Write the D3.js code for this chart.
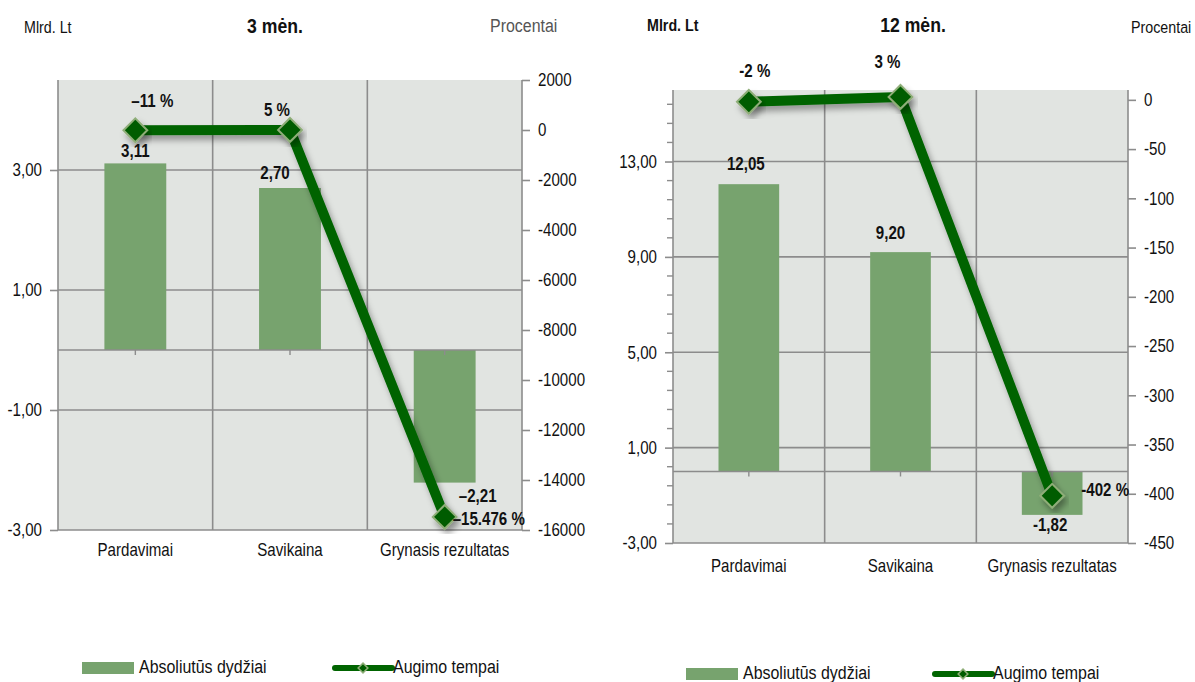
<!DOCTYPE html>
<html><head><meta charset="utf-8">
<script src="https://cdn.jsdelivr.net/npm/d3@7"></script>
<style>
body{margin:0;background:#fff;}
svg{display:block;font-family:"Liberation Sans",Arial,sans-serif;}
</style></head><body>
<svg id="c" width="1195" height="682"></svg>
<script>
// ---------- data ----------
const categories = ["Pardavimai", "Savikaina", "Grynasis rezultatas"];

const absQ = [3.11, 2.70, -2.21];
const growthQ = [-11, 5, -15476];
const absLabelsQ = ["3,11", "2,70", "–2,21"];
const growthLabelsQ = ["–11 %", "5 %", "–15.476 %"];
const leftTicksQ = [3, 1, -1, -3];
const leftTickLabelsQ = ["3,00", "1,00", "-1,00", "-3,00"];
const rightTicksQ = [2000, 0, -2000, -4000, -6000, -8000, -10000, -12000, -14000, -16000];

const absY = [12.05, 9.20, -1.82];
const growthY = [-2, 3, -402];
const absLabelsY = ["12,05", "9,20", "-1,82"];
const growthLabelsY = ["-2 %", "3 %", "-402 %"];
const leftTicksY = [13, 9, 5, 1, -3];
const leftTickLabelsY = ["13,00", "9,00", "5,00", "1,00", "-3,00"];
const minorTicksY = [15.4, 14.6, 13.8, 12.2, 11.4, 10.6, 9.8, 8.2, 7.4, 6.6, 5.8, 4.2, 3.4, 2.6, 1.8, 0.2, -0.6, -1.4, -2.2];
const rightTicksY = [0, -50, -100, -150, -200, -250, -300, -350, -400, -450];

const legendLabels = ["Absoliutūs dydžiai", "Augimo tempai"];

// ---------- style ----------
const SX = 0.84; // horizontal condensing of text (narrow font look)
const BAR = "#77a36e", LINE = "#006400", MARK = "#005c00", MARKSTROKE = "#8fae78";
const BG = "#e1e4e1", GRID = "#8c8c8c", INK = "#111";

const svg = d3.select("#c");
const defs = svg.append("defs");
const f = defs.append("filter").attr("id", "sh").attr("x", "-20%").attr("y", "-20%").attr("width", "140%").attr("height", "140%");
f.append("feDropShadow").attr("dx", 3).attr("dy", 5).attr("stdDeviation", 3).attr("flood-color", "#000").attr("flood-opacity", 0.35);

function txt(g, x, y, s, o = {}) {
  return g.append("text")
    .attr("x", x / SX).attr("y", y)
    .attr("transform", `scale(${SX},1)`)
    .attr("text-anchor", o.anchor || "start")
    .attr("dominant-baseline", "middle")
    .attr("font-size", o.size || 18)
    .attr("font-weight", o.bold ? "bold" : "normal")
    .attr("fill", o.fill || INK)
    .text(s);
}

function chart(o) {
  const g = svg.append("g");
  const x = d3.scaleBand().domain(categories).range([o.x0, o.x1]).paddingInner(0).paddingOuter(0);
  const yL = d3.scaleLinear().domain(o.leftDomain).range([o.y1, o.y0]);
  const yR = d3.scaleLinear().domain(o.rightDomain).range([o.y1, o.y0]);
  const cx = c => x(c) + x.bandwidth() / 2;

  g.append("rect").attr("x", o.x0).attr("y", o.y0).attr("width", o.x1 - o.x0).attr("height", o.y1 - o.y0).attr("fill", BG);

  g.selectAll(".hg").data(o.leftTicks).join("line")
    .attr("x1", o.x0).attr("x2", o.x1).attr("y1", d => yL(d)).attr("y2", d => yL(d))
    .attr("stroke", GRID).attr("stroke-width", 1.6);
  g.selectAll(".vg").data(categories.slice(1)).join("line")
    .attr("x1", d => x(d)).attr("x2", d => x(d)).attr("y1", o.y0).attr("y2", o.y1)
    .attr("stroke", GRID).attr("stroke-width", 1.6);

  const bw = x.bandwidth() * 0.4;
  g.selectAll(".bar").data(o.abs).join("rect")
    .attr("x", (d, i) => cx(categories[i]) - bw / 2)
    .attr("y", d => yL(Math.max(0, d)))
    .attr("width", bw)
    .attr("height", d => Math.abs(yL(d) - yL(0)))
    .attr("fill", BAR);

  g.append("line").attr("x1", o.x0).attr("x2", o.x1).attr("y1", yL(0)).attr("y2", yL(0)).attr("stroke", GRID).attr("stroke-width", 1.6);
  g.selectAll(".ct").data(categories).join("line")
    .attr("x1", d => cx(d)).attr("x2", d => cx(d))
    .attr("y1", yL(0)).attr("y2", yL(0) + 5).attr("stroke", GRID).attr("stroke-width", 1.4);

  const la = g.append("g").attr("transform", `translate(${o.x0},0)`)
    .call(d3.axisLeft(yL).tickValues(o.leftTicks).tickSize(8).tickPadding(8).tickFormat((d, i) => o.leftTickLabels[i]));
  if (o.minorLeft) {
    la.selectAll(".minor").data(o.minorLeft).join("line").attr("class", "minor")
      .attr("x1", -6).attr("x2", 0).attr("y1", d => yL(d)).attr("y2", d => yL(d)).attr("stroke", GRID).attr("stroke-width", 1.4);
  }
  const ra = g.append("g").attr("transform", `translate(${o.x1},0)`)
    .call(d3.axisRight(yR).tickValues(o.rightTicks).tickSize(8).tickPadding(8).tickFormat(d => String(d)));
  [la, ra].forEach(a => {
    a.select(".domain").remove();
    a.append("line").attr("x1", 0).attr("x2", 0).attr("y1", o.y0).attr("y2", o.y1).attr("stroke", GRID).attr("stroke-width", 1.6);
    a.selectAll(".tick line").attr("stroke", GRID).attr("stroke-width", 1.6);
    a.selectAll(".tick text").attr("font-size", 18).attr("fill", INK).attr("font-family", null)
      .attr("transform", `scale(${SX},1)`)
      .attr("x", function () { return +d3.select(this).attr("x") / SX; });
  });

  categories.forEach(c => txt(g, cx(c), o.catY, c, { anchor: "middle", size: 18 }));

  const pts = o.growth.map((v, i) => [cx(categories[i]), yR(v)]);
  g.append("path").attr("d", d3.line()(pts)).attr("fill", "none").attr("stroke", LINE)
    .attr("stroke-width", 10).attr("stroke-linejoin", "round").attr("filter", "url(#sh)");
  const sym = d3.symbol().type(d3.symbolDiamond2).size(360);
  g.selectAll(".mk").data(pts).join("path")
    .attr("d", sym).attr("transform", d => `translate(${d[0]},${d[1]})`)
    .attr("fill", MARK).attr("stroke", MARKSTROKE).attr("stroke-width", 2).attr("filter", "url(#sh)");

  o.abs.forEach((v, i) => txt(g, cx(categories[i]) + o.absOff[i][0], yL(v) + o.absOff[i][1], o.absLabels[i], { anchor: "middle", bold: true, size: 18 }));
  o.growth.forEach((v, i) => txt(g, pts[i][0] + o.growthOff[i][0], pts[i][1] + o.growthOff[i][1], o.growthLabels[i], { anchor: o.growthOff[i][2] || "middle", bold: true, size: 18 }));

  txt(g, o.unitX, o.unitY, "Mlrd. Lt", { size: 17, bold: o.unitBold });
  txt(g, o.titleX, o.titleY, o.title, { anchor: "middle", bold: true, size: 21 });
  txt(g, o.pctX, o.pctY, "Procentai", { size: o.pctSize, fill: o.pctColor });

  const lg = g.append("g");
  lg.append("rect").attr("x", o.legX).attr("y", o.legY - 6).attr("width", 52).attr("height", 12).attr("fill", BAR);
  txt(lg, o.legX + 57, o.legY, legendLabels[0], { size: 19 });
  lg.append("line").attr("x1", o.leg2X).attr("x2", o.leg2X + 57).attr("y1", o.legY).attr("y2", o.legY)
    .attr("stroke", LINE).attr("stroke-width", 6).attr("stroke-linecap", "round");
  lg.append("path").attr("d", d3.symbol().type(d3.symbolDiamond2).size(60))
    .attr("transform", `translate(${o.leg2X + 28},${o.legY})`).attr("fill", MARK).attr("stroke", MARKSTROKE).attr("stroke-width", 1.5);
  txt(lg, o.leg2X + 58, o.legY, legendLabels[1], { size: 19 });
}

chart({
  x0: 58, x1: 522, y0: 80, y1: 530,
  leftDomain: [-3, 4.5], rightDomain: [-16000, 2000],
  leftTicks: leftTicksQ, leftTickLabels: leftTickLabelsQ, rightTicks: rightTicksQ,
  abs: absQ, growth: growthQ, absLabels: absLabelsQ, growthLabels: growthLabelsQ,
  absOff: [[0, -11], [-15, -14], [33, 15]],
  growthOff: [[17, -28], [-13, -19], [8, 3, "start"]],
  catY: 551,
  unitX: 24, unitY: 29, unitBold: false,
  title: "3 mėn.", titleX: 275, titleY: 27,
  pctX: 490, pctY: 27, pctColor: "#555", pctSize: 19,
  legX: 82, legY: 668, leg2X: 335
});

chart({
  x0: 673, x1: 1128, y0: 90, y1: 543,
  leftDomain: [-3, 16], rightDomain: [-450, 10],
  leftTicks: leftTicksY, leftTickLabels: leftTickLabelsY, rightTicks: rightTicksY,
  minorLeft: minorTicksY,
  abs: absY, growth: growthY, absLabels: absLabelsY, growthLabels: growthLabelsY,
  absOff: [[-3, -19], [-10, -18], [-2, 11]],
  growthOff: [[6, -30], [-13, -34], [53, -4]],
  catY: 567,
  unitX: 647, unitY: 27, unitBold: true,
  title: "12 mėn.", titleX: 913, titleY: 26,
  pctX: 1131, pctY: 29, pctColor: "#111", pctSize: 17,
  legX: 686, legY: 674, leg2X: 935
});
</script>
</body></html>
